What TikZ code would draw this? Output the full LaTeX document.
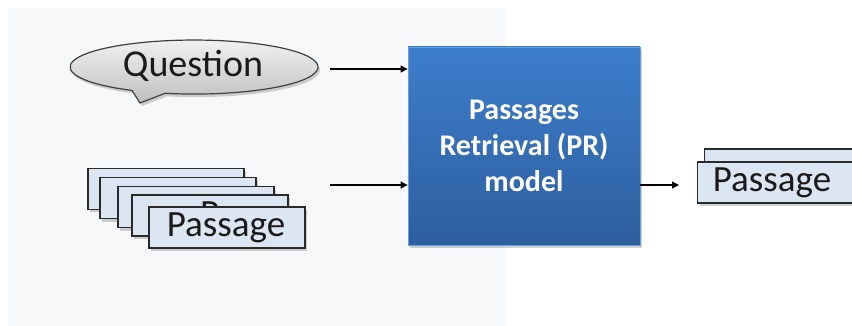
\documentclass[tikz,border=0pt]{standalone}
\usepackage{fontspec}
\setmainfont{Carlito}
\usetikzlibrary{shadows,arrows.meta}
\definecolor{bgc}{HTML}{F7F8FA}
\definecolor{passfill}{HTML}{DCE5F2}
\definecolor{passdraw}{HTML}{2A2A2A}
\definecolor{boxtop}{HTML}{3D7ECC}
\definecolor{boxbot}{HTML}{2D5E9E}
\definecolor{boxdraw}{HTML}{6C9DDA}
\definecolor{txt}{HTML}{1A1A1A}
\tikzset{
  softshadow/.style={drop shadow={shadow xshift=2pt,shadow yshift=-3pt,opacity=0.25,fill=black!70}},
  passbox/.style={draw=passdraw,line width=1.1pt,fill=passfill,minimum width=156pt,minimum height=41pt,inner sep=0pt,softshadow},
  bigtxt/.style={text=txt,font=\fontsize{37}{40}\selectfont,inner sep=0pt},
  arr/.style={-{Triangle[length=7pt,width=7pt]},line width=1.3pt,black}
}
\begin{document}
\begin{tikzpicture}[x=1pt,y=-1pt]
\clip (0,0) rectangle (852,326);
\fill[white] (0,0) rectangle (852,326);
\fill[bgc] (8,8) rectangle (506,326);

% question callout
\path[draw=black!75,line width=1.2pt,top color=white!95!black,bottom color=black!25,softshadow]
  (165.1,93.3) arc[start angle=103.5,end angle=-240,x radius=124,y radius=27] -- (140,103) -- cycle;
\node[bigtxt,font=\fontsize{38}{40}\selectfont] (q) at (193,66) {Question};

% stack of passages
\node[passbox] (p1) at (166,189) {};
\node[passbox] (p2) at (178,198) {};
\node[passbox] (p3) at (196,207) {};
\node[passbox] (p4) at (210,215.5) {};
\begin{scope}
\clip (150,195) rectangle (290,207);
\node[bigtxt,anchor=north west] (p4t) at (200,202) {P};
\end{scope}
\node[passbox] (p5) at (227,227.5) {};
\node[bigtxt] (p5t) at (226,228) {Passage};

% model box
\node[draw=boxdraw,line width=0.8pt,top color=boxtop,bottom color=boxbot,minimum width=232pt,minimum height=198pt,softshadow,
      text=white,font=\bfseries\fontsize{30}{36}\selectfont,align=center] (pr) at (524,146)
  {Passages\\Retrieval (PR)\\model};

% output passages
\node[passbox,minimum width=170pt,anchor=west] (ob) at (704,169.5) {};
\node[passbox,minimum width=170pt,anchor=west] (out) at (697,182.5) {};
\node[bigtxt] (outt) at (772,183) {Passage};

% connectors
\coordinate (qin) at (330,69);
\coordinate (pin) at (330,185);
\draw[arr] (qin) -- (pr.west |- qin);
\draw[arr] (pin) -- (pr.west |- pin);
\draw[arr] (pr.east |- pin) -- ([xshift=-18pt]out.west |- pin);
\end{tikzpicture}
\end{document}
